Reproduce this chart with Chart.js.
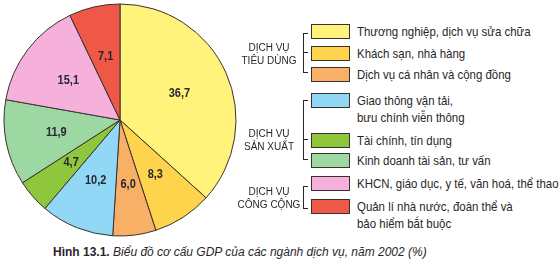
<!DOCTYPE html>
<html>
<head>
<meta charset="utf-8">
<script src="https://cdn.jsdelivr.net/npm/chart.js@4"></script>
<style>
  body { margin: 0; background: #fff; width: 559px; height: 270px; position: relative; overflow: hidden;
         font-family: "Liberation Sans", Arial, sans-serif; color: #2a2628; }
  #pieWrap { position: absolute; left: 0; top: 0; width: 240px; height: 240px; }
  .box { position: absolute; left: 311px; width: 37px; height: 13px; border: 1px solid #3a3030; }
  .txt { position: absolute; left: 357px; font-size: 13px; line-height: 17px; white-space: nowrap;
         transform: scaleX(0.88); transform-origin: left top; }
  .grp { position: absolute; width: 80px; left: 229px; text-align: center; font-size: 10px; line-height: 13px; }
  .brk { position: absolute; left: 303px; width: 4px; border: 1px solid #2a2628; border-right: none; }
  .tick { position: absolute; left: 303px; width: 5px; height: 0; border-top: 1px solid #2a2628; }
  #caption { position: absolute; left: 53px; top: 245px; font-size: 12px; white-space: nowrap; }
</style>
</head>
<body>
<div id="pieWrap"><canvas id="pie" width="240" height="240"></canvas></div>
<div id="legend"></div>

<div class="grp" style="top:41px">DỊCH VỤ<br>TIÊU DÙNG</div>
<div class="brk" style="top:33px;height:38px"></div>
<div class="tick" style="top:52px"></div>

<div class="grp" style="top:127px">DỊCH VỤ<br>SẢN XUẤT</div>
<div class="brk" style="top:100px;height:58px"></div>
<div class="tick" style="top:139px"></div>

<div class="grp" style="top:185px">DỊCH VỤ<br>CÔNG CỘNG</div>
<div class="brk" style="top:186px;height:21px"></div>

<div id="caption"><b>Hình 13.1.</b> <i>Biểu đồ cơ cấu GDP của các ngành dịch vụ, năm 2002 (%)</i></div>

<script>
// data
const sectors = [
  'Thương nghiệp, dịch vụ sửa chữa',
  'Khách sạn, nhà hàng',
  'Dịch vụ cá nhân và cộng đồng',
  'Giao thông vận tải,\nbưu chính viễn thông',
  'Tài chính, tín dụng',
  'Kinh doanh tài sản, tư vấn',
  'KHCN, giáo dục, y tế, văn hoá, thể thao',
  'Quản lí nhà nước, đoàn thể và\nbảo hiểm bắt buộc'
];
const shares = [36.7, 8.3, 6.0, 10.2, 4.7, 11.9, 15.1, 7.1];
const shareLabels = ['36,7', '8,3', '6,0', '10,2', '4,7', '11,9', '15,1', '7,1'];
const colors = ['#fff37c', '#fdd44c', '#f8b066', '#90d8f6', '#8fc73c', '#9dd8a2', '#f6b0dc', '#ef5847'];

// legend row tops (layout only)
const rowTop = [24, 46, 67, 93, 133, 153, 176, 199];

const legend = document.getElementById('legend');
sectors.forEach((name, i) => {
  const b = document.createElement('div');
  b.className = 'box';
  b.style.top = rowTop[i] + 'px';
  b.style.background = colors[i];
  legend.appendChild(b);
  const t = document.createElement('div');
  t.className = 'txt';
  t.style.top = (rowTop[i] - 1) + 'px';
  t.innerHTML = name.replace('\n', '<br>');
  legend.appendChild(t);
});

const sliceLabels = {
  id: 'sliceLabels',
  afterDatasetsDraw(chart) {
    const ctx = chart.ctx;
    const meta = chart.getDatasetMeta(0);
    ctx.save();
    ctx.fillStyle = '#2a2630';
    ctx.font = 'bold 12.5px "Liberation Sans", Arial, sans-serif';
    ctx.textAlign = 'center';
    ctx.textBaseline = 'middle';
    meta.data.forEach((arc, i) => {
      const mid = (arc.startAngle + arc.endAngle) / 2;
      const r = arc.outerRadius * 0.56;
      const x = arc.x + Math.cos(mid) * r;
      const y = arc.y + Math.sin(mid) * r;
      ctx.save();
      ctx.translate(x, y);
      ctx.scale(0.88, 1);
      ctx.fillText(shareLabels[i], 0, 0);
      ctx.restore();
    });
    ctx.restore();
  }
};

new Chart(document.getElementById('pie'), {
  type: 'pie',
  data: {
    labels: sectors,
    datasets: [{
      data: shares,
      backgroundColor: colors,
      borderColor: '#3a3030',
      borderWidth: 1
    }]
  },
  options: {
    responsive: false,
    animation: false,
    radius: 116,
    plugins: {
      legend: { display: false },
      tooltip: { enabled: false }
    }
  },
  plugins: [sliceLabels]
});
</script>
</body>
</html>
